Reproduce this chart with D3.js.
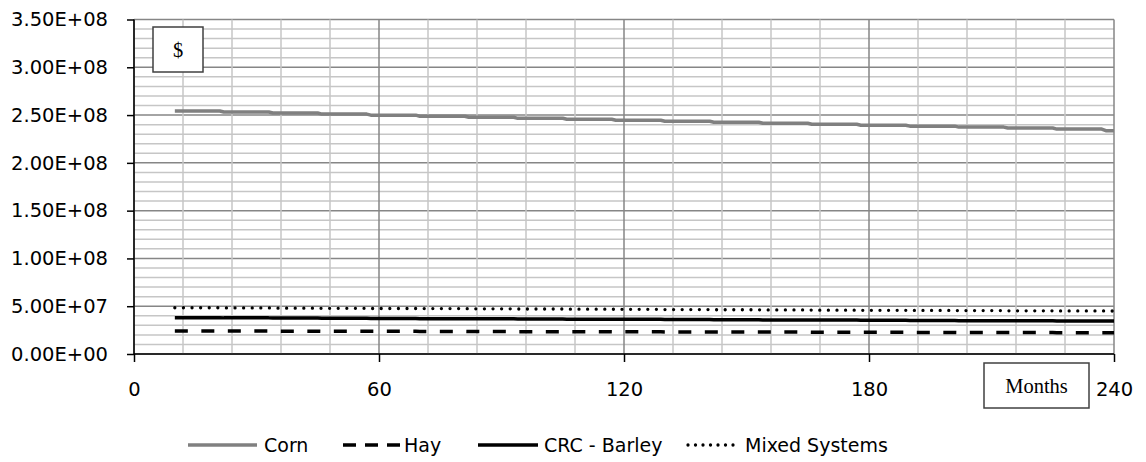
<!DOCTYPE html>
<html><head><meta charset="utf-8">
<script src="https://cdn.jsdelivr.net/npm/d3@7"></script>
<style>body{margin:0;background:#fff}svg{display:block}</style>
</head><body>
<svg id="c" width="1146" height="462"></svg>
<script>
// ---- data (values in $; yearly price steps) ----
const yearStartMonths = [10,22,34,46,58,70,82,94,106,118,130,142,154,166,178,190,202,214,226,238];
const lastMonth = 240;
const corn  = [254.3,253.2,252.1,251.0,249.9,248.8,247.7,246.6,245.6,244.6,243.5,242.5,241.4,240.4,239.4,238.4,237.4,236.4,235.3,233.6].map(v=>v*1e6);
const hay   = [24.1,24.0,23.9,23.8,23.7,23.6,23.5,23.4,23.3,23.2,23.1,23.0,22.9,22.8,22.7,22.6,22.5,22.4,22.3,22.3].map(v=>v*1e6);
const crc   = [38.0,37.8,37.6,37.4,37.2,37.0,36.8,36.6,36.4,36.3,36.1,35.9,35.7,35.5,35.3,35.1,34.9,34.7,34.6,34.5].map(v=>v*1e6);
const mixed = [48.4,48.2,48.0,47.8,47.6,47.5,47.3,47.1,46.9,46.7,46.5,46.3,46.1,45.9,45.7,45.6,45.4,45.2,45.1,45.0].map(v=>v*1e6);
const seriesNames = ["Corn","Hay","CRC - Barley","Mixed Systems"];
const xTicks = [0,60,120,180,240];
const yTicks = [0,5e7,1e8,1.5e8,2e8,2.5e8,3e8,3.5e8];
const xMinor = d3.range(0,241,12);
const yMinor = d3.range(0,3.5e8+1,1e7);

const svg = d3.select("#c");
const L=134, R=1114, T=19.5, B=354;
const x = d3.scaleLinear().domain([0,240]).range([L,R]);
const y = d3.scaleLinear().domain([0,3.5e8]).range([B,T]);

// gridlines
const g = svg.append("g");
g.selectAll(".ym").data(yMinor).join("line")
  .attr("x1",L).attr("x2",R).attr("y1",d=>y(d)).attr("y2",d=>y(d))
  .attr("stroke",d=>(Math.round(d/1e7)%5===0)?"#868686":"#c6c6c6").attr("stroke-width",1.5);
g.selectAll(".xm").data(xMinor).join("line")
  .attr("y1",T).attr("y2",B).attr("x1",d=>x(d)).attr("x2",d=>x(d))
  .attr("stroke",d=>(d%60===0)?"#868686":"#c6c6c6").attr("stroke-width",1.5);

// axes
const yAxis = d3.axisLeft(y).tickValues(yTicks).tickSize(7).tickFormat(d=>{
  const e=d3.format(".2e")(d);
  let [m,ex]=e.split("e"); const sign=ex[0]; ex=ex.slice(1).padStart(2,"0");
  return m+"E"+sign+ex;
});
const ya = svg.append("g").attr("transform",`translate(${L},0)`).call(yAxis);
ya.select(".domain").attr("stroke","#000").attr("stroke-width",1.5).attr("d",`M0,${T}V${B}`);
ya.selectAll(".tick line").attr("stroke","#000").attr("stroke-width",1.5);
ya.selectAll(".tick text").attr("x",-26).attr("font-family","DejaVu Sans").attr("font-size",19.5).attr("fill","#000");

const xAxis = d3.axisBottom(x).tickValues(xTicks).tickSize(8).tickFormat(d3.format("d"));
const xa = svg.append("g").attr("transform",`translate(0,${B})`).call(xAxis);
xa.select(".domain").attr("stroke","#000").attr("stroke-width",1.5).attr("d",`M${L},0H${R}`);
xa.selectAll(".tick line").attr("stroke","#000").attr("stroke-width",1.5);
xa.selectAll(".tick text").attr("y",28).attr("dy","0.71em").attr("font-family","DejaVu Sans").attr("font-size",19.5).attr("fill","#000");
svg.selectAll(".domain").attr("fill","none");

// series as yearly steps
function pts(vals){
  const p=[];
  vals.forEach((v,i)=>{
    const s=yearStartMonths[i];
    const e=(i<vals.length-1)?yearStartMonths[i+1]-1:lastMonth;
    p.push([s,v]); p.push([e,v]);
  });
  return p;
}
const line = d3.line().x(d=>x(d[0])).y(d=>y(d[1]));
const styles = [
  {data:corn, stroke:"#808080", w:3.5, dash:null, cap:"butt", ldash:null},
  {data:hay, stroke:"#000", w:3.5, dash:"13,13.5", cap:"butt", ldash:"13,9"},
  {data:crc, stroke:"#000", w:3.5, dash:null, cap:"butt", ldash:null},
  {data:mixed, stroke:"#000", w:3.3, dash:"0,8.6", cap:"round", ldash:"0,7.5"}
];
styles.forEach(s=>{
  svg.append("path").attr("d",line(pts(s.data))).attr("fill","none")
    .attr("stroke",s.stroke).attr("stroke-width",s.w)
    .attr("stroke-dasharray",s.dash).attr("stroke-linecap",s.cap).attr("stroke-linejoin","round");
});

// annotation boxes
function box(x0,y0,w,h,txt){
  svg.append("rect").attr("x",x0).attr("y",y0).attr("width",w).attr("height",h)
    .attr("fill","#fff").attr("stroke","#404040").attr("stroke-width",1.5);
  svg.append("text").attr("x",x0+w/2).attr("y",y0+h/2).attr("text-anchor","middle")
    .attr("dominant-baseline","central").attr("font-family","Liberation Serif").attr("font-size",20.5).text(txt);
}
box(153,27,50,45,"$");
box(984,363,105,45,"Months");

// legend
const legendX = [{x1:188,x2:257,tx:264},{x1:343,x2:400,tx:404},{x1:478,x2:538,tx:544},{x1:688,x2:740,tx:745}];
const lg = svg.append("g");
seriesNames.forEach((n,i)=>{
  const s=styles[i], p=legendX[i];
  lg.append("line").attr("x1",p.x1).attr("x2",p.x2).attr("y1",445).attr("y2",445)
    .attr("stroke",s.stroke).attr("stroke-width",s.w).attr("stroke-dasharray",s.ldash).attr("stroke-linecap",s.cap);
  lg.append("text").attr("x",p.tx).attr("y",445).attr("dominant-baseline","central")
    .attr("font-family","DejaVu Sans").attr("font-size",19).attr("fill","#000").text(n);
});
</script>
</body></html>
